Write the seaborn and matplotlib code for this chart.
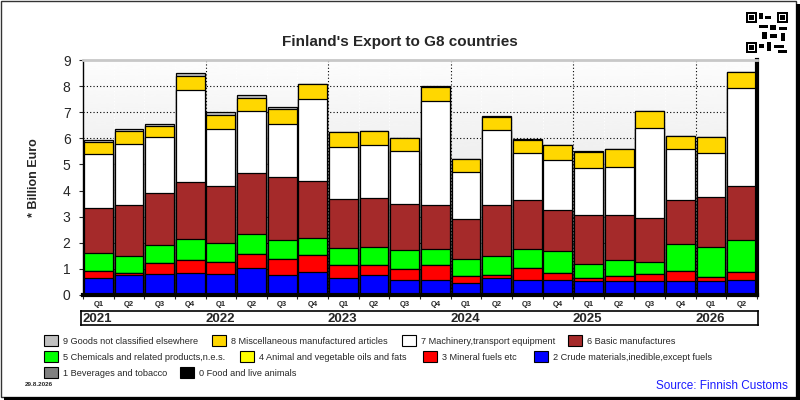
import numpy as np
import pandas as pd
import matplotlib
matplotlib.use("Agg")
import matplotlib.pyplot as plt
from matplotlib.patches import Rectangle
import seaborn as sns

# quarters 2021 Q1 .. 2026 Q2
years = ["2021", "2022", "2023", "2024", "2025", "2026"]
quarters = ["Q1", "Q2", "Q3", "Q4"] * 5 + ["Q1", "Q2"]
periods = [f"{years[i // 4]} {q}" for i, q in enumerate(quarters)]

# billion euro per SITC group
food = [0.02] * 22
beverages = [0.01] * 22
crude = [0.61, 0.72, 0.76, 0.80, 0.76, 0.99, 0.72, 0.84, 0.61, 0.72, 0.53,
         0.53, 0.42, 0.61, 0.53, 0.53, 0.49, 0.49, 0.49, 0.49, 0.49, 0.53]
mineral = [0.28, 0.08, 0.42, 0.50, 0.46, 0.54, 0.62, 0.65, 0.50, 0.39, 0.42,
           0.58, 0.27, 0.11, 0.46, 0.27, 0.12, 0.20, 0.27, 0.39, 0.16, 0.31]
oils = [0.01] * 22
chemicals = [0.67, 0.64, 0.68, 0.79, 0.72, 0.75, 0.71, 0.64, 0.64, 0.68, 0.72,
             0.60, 0.64, 0.72, 0.72, 0.83, 0.52, 0.60, 0.45, 1.02, 1.14, 1.21]
basic = [1.72, 1.97, 2.00, 2.19, 2.18, 2.34, 2.42, 2.19, 1.88, 1.87, 1.76,
         1.69, 1.53, 1.96, 1.88, 1.57, 1.88, 1.72, 1.69, 1.69, 1.91, 2.07]
machinery = [2.07, 2.32, 2.14, 3.52, 2.19, 2.38, 2.03, 3.14, 1.99, 2.03, 2.03,
             3.98, 1.80, 2.87, 1.80, 1.92, 1.80, 1.84, 3.45, 1.95, 1.69, 3.76]
misc = [0.46, 0.51, 0.42, 0.54, 0.53, 0.50, 0.57, 0.57, 0.57, 0.54, 0.50,
        0.56, 0.50, 0.52, 0.52, 0.57, 0.63, 0.70, 0.65, 0.50, 0.61, 0.61]
other = [0.09, 0.07, 0.08, 0.11, 0.12, 0.11, 0.08, 0.03, 0.02, 0.02, 0.02,
         0.02, 0.02, 0.02, 0.02, 0.02, 0.02, 0.02, 0.02, 0.02, 0.02, 0.02]

labels = ["0 Food and live animals", "1 Beverages and tobacco",
          "2 Crude materials,inedible,except fuels", "3 Mineral fuels etc",
          "4 Animal and vegetable oils and fats",
          "5 Chemicals and related products,n.e.s.", "6 Basic manufactures",
          "7 Machinery,transport equipment",
          "8 Miscellaneous manufactured articles",
          "9 Goods not classified elsewhere"]
colors = ["#000000", "#808080", "#0000ff", "#ff0000", "#ffff00", "#00ff00",
          "#a52a2a", "#ffffff", "#ffd700", "#c0c0c0"]

df = pd.DataFrame(dict(zip(labels, [food, beverages, crude, mineral, oils, chemicals,
                                     basic, machinery, misc, other])), index=periods)
cum = df.cumsum(axis=1)

sns.set_style("white")
plt.rcParams["font.family"] = ["Liberation Sans", "DejaVu Sans"]

fig = plt.figure(figsize=(8, 4), dpi=100)
ax = fig.add_axes([83 / 800, 1 - 295 / 400, 674 / 800, 235 / 400])

# stacked bars: draw cumulative totals from the top group down
for name, col in zip(reversed(labels), reversed(colors)):
    sns.barplot(x=periods, y=cum[name].values, order=periods, color=col,
                saturation=1, edgecolor="black", linewidth=0.9, width=0.94,
                errorbar=None, ax=ax)

# grey gradient backdrop + dotted grid
ax.imshow(np.linspace(0.99, 0.86, 256)[:, None], cmap="gray", vmin=0, vmax=1,
          extent=(-0.5, 21.5, 0, 9), aspect="auto", zorder=0, interpolation="bicubic")
for v in range(1, 9):
    ax.axhline(v, color="black", ls=(0, (1, 2)), lw=0.8, zorder=0.5)
for b in np.arange(22) - 0.5:
    if b in (3.5, 7.5, 11.5, 15.5, 19.5):
        ax.axvline(b, color="black", ls=(0, (1, 2)), lw=0.8, zorder=0.5)
    else:
        ax.axvline(b, color="white", ls=(0, (1, 2)), lw=0.8, zorder=0.5)

ax.set_xlim(-0.5, 21.5)
ax.set_ylim(0, 9)
ax.set_xlabel("")
ax.set_xticks(range(22))
ax.set_xticklabels(quarters, fontsize=5.5, fontweight="bold")
ax.tick_params(axis="x", which="major", length=0, pad=4)
ax.set_xticks(np.arange(23) - 0.5, minor=True)
ax.tick_params(axis="x", which="minor", length=3, width=0.8, direction="out", bottom=True)
ax.set_yticks(range(10))
ax.tick_params(axis="y", labelsize=10, length=3, width=0.8, direction="out", left=True, pad=6)
ax.set_ylabel("* Billion Euro", fontsize=9, fontweight="bold")
ax.yaxis.set_label_coords(-0.064, 0.5)

for s in ["bottom", "right"]:
    ax.spines[s].set_linewidth(3)
    ax.spines[s].set_color("black")
ax.spines["left"].set_linewidth(1)
ax.spines["left"].set_color("black")
ax.spines["top"].set_linewidth(2)
ax.spines["top"].set_color("#c8c8c8")

# year row
yax = fig.add_axes([81 / 800, 1 - 325 / 400, 677 / 800, 14 / 400])
yax.set_xlim(-0.56, 21.55)
yax.set_ylim(0, 1)
yax.set_xticks([])
yax.set_yticks([])
for s in yax.spines.values():
    s.set_linewidth(1.2)
    s.set_color("black")
for i, yr in enumerate(years):
    yax.text(i * 4 - 0.5, 0.45, yr, ha="left", va="center", fontsize=9.5, fontweight="bold")

fig.text(0.5, 1 - 42 / 400, "Finland's Export to G8 countries", ha="center", va="center",
         fontsize=11, fontweight="bold")

# legend laid out like the original
legend_rows = [
    [(9, 44), (8, 212), (7, 402), (6, 568)],
    [(5, 44), (4, 240), (3, 423), (2, 534)],
    [(1, 44), (0, 180)],
]
row_y = [341, 357, 373]
for row, yy in zip(legend_rows, row_y):
    for idx, xx in row:
        fig.add_artist(Rectangle((xx / 800, 1 - (yy + 5) / 400), 14 / 800, 11 / 400,
                                 transform=fig.transFigure, facecolor=colors[idx],
                                 edgecolor="black", lw=0.8))
        fig.text((xx + 19) / 800, 1 - yy / 400, labels[idx], ha="left", va="center",
                 fontsize=6.6)

fig.text(25 / 800, 1 - 384 / 400, "29.8.2026", ha="left", va="center", fontsize=4.5,
         fontweight="bold")
fig.text(788 / 800, 1 - 386 / 400, "Source: Finnish Customs", ha="right", va="center",
         fontsize=8.5, color="#1a1aff")

# QR code finder marks
for qx, qy in [(746, 12), (777, 12), (746, 42)]:
    fig.add_artist(Rectangle((qx / 800, 1 - (qy + 11) / 400), 11 / 800, 11 / 400,
                             transform=fig.transFigure, facecolor="black", lw=0))
    fig.add_artist(Rectangle(((qx + 1.6) / 800, 1 - (qy + 9.4) / 400), 7.8 / 800, 7.8 / 400,
                             transform=fig.transFigure, facecolor="white", lw=0))
    fig.add_artist(Rectangle(((qx + 3.3) / 800, 1 - (qy + 7.7) / 400), 4.4 / 800, 4.4 / 400,
                             transform=fig.transFigure, facecolor="black", lw=0))
for bx, by, bw, bh in [(759, 13, 4, 6), (765, 16, 6, 3), (759, 25, 9, 3), (770, 25, 6, 5),
                       (779, 27, 8, 3), (762, 32, 5, 7), (770, 34, 7, 4), (781, 33, 4, 8),
                       (759, 44, 5, 4), (767, 42, 4, 9), (774, 45, 10, 3), (778, 50, 9, 3)]:
    fig.add_artist(Rectangle((bx / 800, 1 - (by + bh) / 400), bw / 800, bh / 400,
                             transform=fig.transFigure, facecolor="black", lw=0))

# outer frame with shadow
fig.add_artist(Rectangle((1 / 800, 3 / 400), 795 / 800, 396 / 400, transform=fig.transFigure,
                         fill=False, edgecolor="#333333", lw=1))
fig.add_artist(Rectangle((796 / 800, 0), 4 / 800, 396 / 400, transform=fig.transFigure,
                         facecolor="black", lw=0))
fig.add_artist(Rectangle((4 / 800, 0), 796 / 800, 3 / 400, transform=fig.transFigure,
                         facecolor="black", lw=0))

fig.savefig("out.png", dpi=100)
